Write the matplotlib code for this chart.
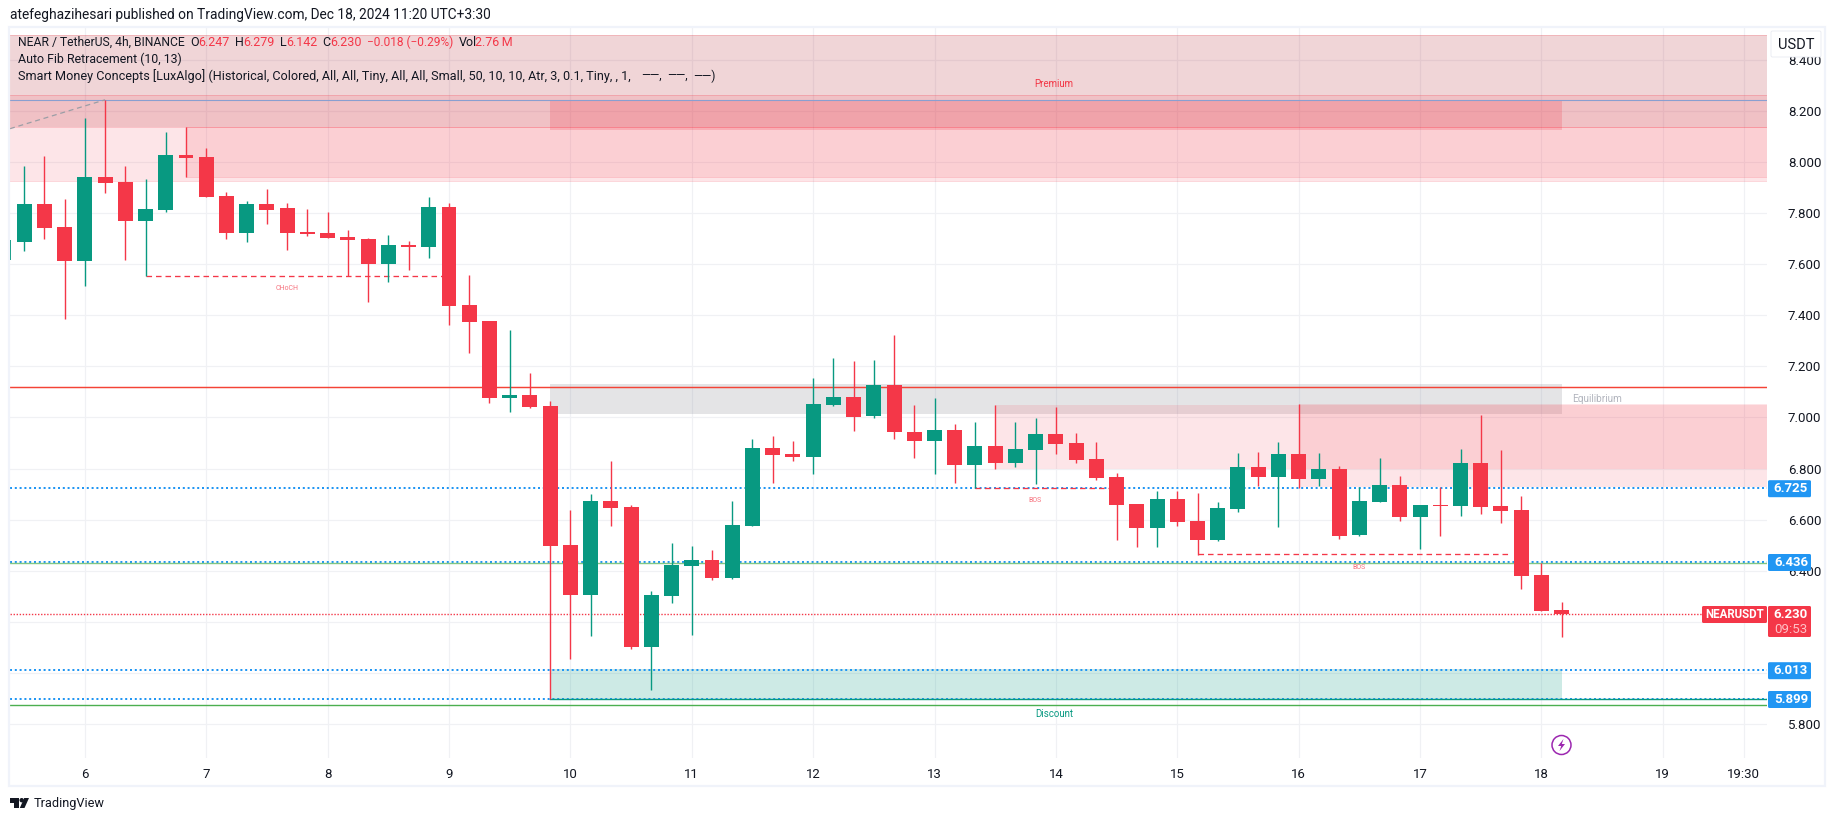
import numpy as np
import matplotlib
matplotlib.use("Agg")
import matplotlib.pyplot as plt
from matplotlib.patches import Rectangle, Circle, Polygon, FancyBboxPatch
from matplotlib.transforms import Affine2D

W, H = 1835, 821
plt.rcParams['font.family'] = ['Roboto', 'DejaVu Sans']

opens = [7.616, 7.687, 7.836, 7.746, 7.612, 7.941, 7.922, 7.769, 7.812, 8.027, 8.019, 7.867, 7.722, 7.836, 7.820, 7.726, 7.722, 7.706, 7.699, 7.601, 7.675, 7.667, 7.824, 7.440, 7.378, 7.076, 7.088, 7.045, 6.501, 6.305, 6.673, 6.650, 6.102, 6.301, 6.419, 6.442, 6.372, 6.575, 6.881, 6.857, 6.845, 7.049, 7.080, 7.006, 7.127, 6.943, 6.908, 6.951, 6.814, 6.888, 6.822, 6.873, 6.935, 6.900, 6.837, 6.767, 6.661, 6.567, 6.681, 6.595, 6.520, 6.642, 6.806, 6.767, 6.857, 6.759, 6.798, 6.540, 6.669, 6.736, 6.610, 6.657, 6.654, 6.822, 6.654, 6.638, 6.383, 6.247]
highs = [7.695, 7.982, 8.023, 7.855, 8.172, 8.243, 7.984, 7.933, 8.117, 8.137, 8.055, 7.883, 7.847, 7.894, 7.839, 7.816, 7.804, 7.734, 7.702, 7.714, 7.691, 7.863, 7.839, 7.558, 7.378, 7.342, 7.174, 7.064, 6.638, 6.700, 6.830, 6.657, 6.321, 6.509, 6.497, 6.481, 6.673, 6.916, 6.927, 6.908, 7.155, 7.233, 7.221, 7.225, 7.323, 7.049, 7.076, 6.974, 6.982, 7.049, 6.982, 6.998, 7.041, 6.939, 6.904, 6.783, 6.661, 6.712, 6.712, 6.704, 6.669, 6.861, 6.865, 6.904, 7.053, 6.861, 6.810, 6.728, 6.841, 6.771, 6.657, 6.728, 6.877, 7.010, 6.873, 6.693, 6.430, 6.279]
lows = [7.616, 7.652, 7.699, 7.385, 7.515, 7.879, 7.616, 7.554, 7.804, 7.941, 7.863, 7.699, 7.687, 7.757, 7.656, 7.710, 7.702, 7.554, 7.452, 7.530, 7.577, 7.624, 7.362, 7.252, 7.057, 7.021, 7.037, 5.898, 6.055, 6.145, 6.575, 6.094, 5.933, 6.274, 6.149, 6.364, 6.368, 6.575, 6.744, 6.830, 6.779, 7.045, 6.947, 6.998, 6.916, 6.841, 6.779, 6.744, 6.724, 6.798, 6.806, 6.740, 6.857, 6.822, 6.755, 6.520, 6.493, 6.493, 6.575, 6.462, 6.517, 6.630, 6.732, 6.571, 6.724, 6.732, 6.524, 6.536, 6.669, 6.595, 6.485, 6.536, 6.614, 6.622, 6.587, 6.329, 6.243, 6.142]
closes = [7.695, 7.836, 7.742, 7.612, 7.941, 7.918, 7.769, 7.816, 8.027, 8.016, 7.863, 7.722, 7.836, 7.812, 7.722, 7.718, 7.702, 7.695, 7.601, 7.675, 7.667, 7.824, 7.436, 7.374, 7.076, 7.088, 7.041, 6.497, 6.305, 6.673, 6.646, 6.102, 6.305, 6.423, 6.442, 6.372, 6.579, 6.881, 6.853, 6.845, 7.053, 7.080, 7.002, 7.127, 6.943, 6.908, 6.951, 6.814, 6.888, 6.822, 6.877, 6.935, 6.896, 6.834, 6.763, 6.657, 6.567, 6.681, 6.591, 6.520, 6.646, 6.806, 6.767, 6.857, 6.759, 6.798, 6.536, 6.673, 6.736, 6.610, 6.657, 6.654, 6.822, 6.650, 6.634, 6.380, 6.243, 6.230]

price_ticks = [5.8, 6.0, 6.2, 6.4, 6.6, 6.8, 7.0, 7.2, 7.4, 7.6, 7.8, 8.0, 8.2, 8.4]
price_tick_labels = ['5.800', '', '', '6.400', '6.600', '6.800', '7.000', '7.200', '7.400', '7.600', '7.800', '8.000', '8.200', '8.400']
time_ticks = [3, 9, 15, 21, 27, 33, 39, 45, 51, 57, 63, 69, 75, 81, 85]
time_labels = ['6', '7', '8', '9', '10', '11', '12', '13', '14', '15', '16', '17', '18', '19', '19:30']

blue_levels = [6.725, 6.436, 6.013, 5.899]
blue_labels = ['6.725', '6.436', '6.013', '5.899']
last_price = 6.230
red_level = 7.12
green_level = 6.43
low_level = 5.873
fib_top = 8.243

RED = '#f43748'
GREEN = '#089981'
BLUE = '#2196f3'
INK = '#131722'

fig = plt.figure(figsize=(W / 100, H / 100), dpi=100, facecolor='white')
L, R, T, B = 10, 1767, 28, 758
ax = fig.add_axes([L / W, 1 - B / H, (R - L) / W, (B - T) / H])
ax.set_xlim(-0.70, 86.15)
ax.set_ylim(5.667, 8.524)
ax.set_facecolor('white')
for s in ax.spines.values():
    s.set_visible(False)

pix = Affine2D().scale(1, -1).translate(0, H)
x0, x1 = ax.get_xlim()


def zone(xa, xb, top, bottom, color, alpha, edge=None, z=1.0):
    ax.add_patch(Rectangle((xa, bottom), xb - xa, top - bottom, facecolor=color, alpha=alpha,
                           linewidth=0, zorder=z))
    if edge:
        ax.plot([xa, xb], [top, top], color=edge, lw=0.7, zorder=z, alpha=0.2)
        ax.plot([xa, xb], [bottom, bottom], color=edge, lw=0.7, zorder=z, alpha=0.2)


zone(x0, x1, 8.497, 8.137, (180 / 255, 45 / 255, 55 / 255), 0.20, RED)
zone(x0, x1, 8.262, 7.926, RED, 0.125, RED)
zone(8, x1, 8.137, 7.941, RED, 0.125, RED)
zone(26, 76, 8.240, 8.125, RED, 0.21)
zone(26, 76, 7.131, 7.014, '#787b86', 0.20)
zone(26, 76, 6.016, 5.898, GREEN, 0.20)
zone(48, x1, 7.049, 6.798, RED, 0.125)
zone(63, x1, 7.053, 6.728, RED, 0.125)

# horizontal levels
ax.plot([x0, x1], [fib_top, fib_top], color='#8a9fd0', lw=0.8, zorder=1.4)
ax.plot([-0.7, 4], [8.13, 8.243], color='#9b9ea6', lw=0.9, ls=(0, (4, 3)), zorder=1.4)
for lv in blue_levels:
    ax.plot([x0, x1], [lv, lv], color=BLUE, lw=1.44, ls=(0, (1, 1.4)),
            dash_capstyle='butt', zorder=1.5)
ax.plot([x0, x1], [last_price] * 2, color=RED, lw=1.0, ls=(0, (1, 1.2)),
        dash_capstyle='butt', zorder=1.5)
ax.plot([x0, x1], [red_level] * 2, color='#f44336', lw=1.05, zorder=1.6)
ax.plot([x0, x1], [green_level] * 2, color='#81c784', lw=1.0, zorder=1.6)
ax.plot([x0, x1], [low_level] * 2, color='#4caf50', lw=1.0, zorder=1.6)
ax.plot([26, x1], [5.897, 5.897], color=GREEN, lw=1.0, zorder=1.6)

# structure lines
for xa, xb, lv in [(6, 21, 7.554), (47, 54, 6.724), (58, 73.5, 6.466)]:
    ax.plot([xa, xb], [lv, lv], color=RED, lw=0.95, ls=(0, (4.2, 3)), zorder=1.7)

# candles
x = np.arange(len(opens)) - 1
o, h, l, c = map(np.array, (opens, highs, lows, closes))
cols = [GREEN if cc >= oo else RED for oo, cc in zip(o, c)]
ax.vlines(x, l, h, colors=cols, lw=1.0, zorder=3, capstyle='butt')
ax.bar(x, np.abs(c - o), bottom=np.minimum(o, c), width=0.74, color=cols, linewidth=0, zorder=3.1)

# axes
ax.set_axisbelow(True)
ax.set_yticks(price_ticks)
ax.set_yticklabels(price_tick_labels)
ax.set_xticks(time_ticks)
ax.set_xticklabels(time_labels)
ax.yaxis.tick_right()
ax.tick_params(axis='both', length=0, colors=INK, labelsize=9.5)
ax.tick_params(axis='y', pad=15)
ax.tick_params(axis='x', pad=7)
ax.grid(True, color='#f0f1f4', lw=0.85)


def ptext(px, py, s, color=INK, size=9.5, ha='left', weight='normal', z=6):
    return fig.text(px, py, s, color=color, fontsize=size, ha=ha, va='center',
                    transform=pix, fontweight=weight, zorder=z)


# small labels
ptext(287, 288, 'CHoCH', '#f7727e', 5, 'center')
ptext(1035, 500, 'BOS', '#f7727e', 5, 'center')
ptext(1359, 567, 'BOS', '#f7727e', 5, 'center')
ptext(1054, 84, 'Premium', '#f23645', 7, 'center')
ptext(1597, 399, 'Equilibrium', '#b2b5be', 7.2, 'center')
ptext(1054, 714, 'Discount', GREEN, 7, 'center')

# header and legend
ptext(10, 15, 'atefeghazihesari published on TradingView.com, Dec 18, 2024 11:20 UTC+3:30', INK, 9.93)
ptext(18, 42, 'NEAR / TetherUS, 4h, BINANCE', INK, 8.7)
for px, s, col, sz in [(190, 'O', INK, 9.0), (198, '6.247', RED, 9.0), (235, 'H', INK, 9.0), (243, '6.279', RED, 9.0),
                       (280, 'L', INK, 9.0), (286, '6.142', RED, 9.0), (322, 'C', INK, 9.0), (330, '6.230', RED, 9.0),
                       (367, '\u22120.018 (\u22120.29%)', RED, 8.6), (459, 'Vol', INK, 9.0), (475, '2.76\u2009M', RED, 9.0)]:
    ptext(px, 42, s, col, sz)
ptext(18, 59, 'Auto Fib Retracement (10, 13)', INK, 8.9)
ptext(18, 76, 'Smart Money Concepts [LuxAlgo] (Historical, Colored, All, All, Tiny, All, All, Small, '
              '50, 10, 10, Atr, 3, 0.1, Tiny, , 1,', INK, 9.12)
for px, s in [(641, '\u2014\u2014,'), (667, '\u2014\u2014,'), (693, '\u2014\u2014)')]:
    ptext(px, 76, s, INK, 8.5)

# frame
fig.add_artist(Rectangle((9, 27), 1816, 759, transform=pix, fill=False, edgecolor='#f0f3fa', lw=1.6, zorder=5))


def box(xa, ya, xb, yb, color, edge=None):
    fig.add_artist(FancyBboxPatch((xa + 1, ya + 1), xb - xa - 2, yb - ya - 2, boxstyle='round,pad=1,rounding_size=1.5',
                                  transform=pix, facecolor=color, edgecolor=edge or color, lw=0.6 if edge else 0, zorder=5.5))


# USDT button
box(1771, 31, 1821, 57, 'white', '#e8eaf1')
ptext(1796, 44.5, 'USDT', INK, 10.5, 'center')

# price labels
label_y = [488.7, 562.5, 670.7, 699.5]
for s, yy in zip(blue_labels, label_y):
    box(1768, yy - 8.5, 1811, yy + 8.5, BLUE)
    ptext(1791, yy, s, 'white', 9.5, 'center', 'bold')
box(1702, 606, 1767, 623, RED)
ptext(1734.5, 614.5, 'NEARUSDT', 'white', 8.3, 'center', 'bold')
box(1768, 606, 1811, 637, RED)
ptext(1791, 614.5, '%.3f' % last_price, 'white', 9.5, 'center', 'bold')
ptext(1791, 629, '09:53', '#ffc0c6', 9.5, 'center')

# lightning icon
fig.add_artist(Circle((1561.5, 745), 9.5, transform=pix, fill=False, edgecolor='#9c27b0', lw=1.1, zorder=6))
fig.add_artist(Polygon([(1563.5, 739), (1558, 746), (1561.2, 746), (1559.5, 751), (1565, 744), (1561.8, 744)],
                       transform=pix, facecolor='#9c27b0', edgecolor='none', zorder=6))

# TradingView logo
fig.add_artist(Polygon([(10, 798), (19, 798), (19, 808), (14, 808), (14, 802.5), (10, 802.5)], transform=pix,
                       facecolor=INK, edgecolor='none', zorder=6))
fig.add_artist(Circle((21.7, 800.2), 2.2, transform=pix, facecolor=INK, edgecolor='none', zorder=6))
fig.add_artist(Polygon([(29, 798), (24.5, 808), (19.8, 808), (24.2, 798)], transform=pix,
                       facecolor=INK, edgecolor='none', zorder=6))
ptext(33.5, 803, 'TradingView', INK, 9.2)

fig.savefig('out.png', dpi=100, facecolor='white')
